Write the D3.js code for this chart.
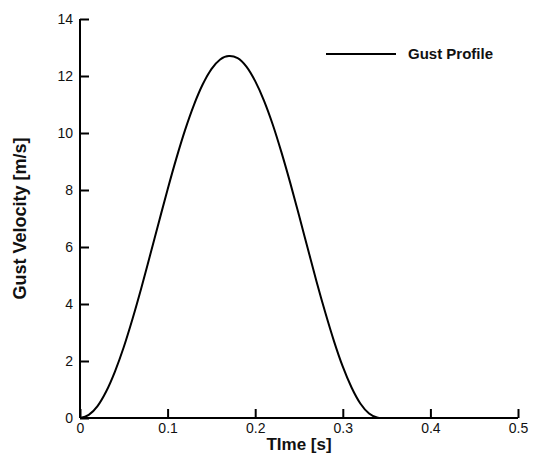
<!DOCTYPE html>
<html>
<head>
<meta charset="utf-8">
<script src="https://cdn.jsdelivr.net/npm/d3@7"></script>
<style>
  html, body { margin: 0; padding: 0; background: #fff; }
  svg { display: block; }
  text { font-family: "Liberation Sans", Arial, sans-serif; fill: #111; }
</style>
</head>
<body>
<svg id="chart" width="534" height="456"></svg>
<script>
// Data
const timeValues = [0, 0.01, 0.02, 0.03, 0.04, 0.05, 0.06, 0.07, 0.08, 0.09, 0.10, 0.11, 0.12, 0.13, 0.14, 0.15, 0.16, 0.17, 0.171, 0.18, 0.19, 0.20, 0.21, 0.22, 0.23, 0.24, 0.25, 0.26, 0.27, 0.28, 0.29, 0.30, 0.31, 0.32, 0.33, 0.34, 0.342, 0.40, 0.45, 0.50];
const gustVelocity = [0, 0.11, 0.42, 0.94, 1.64, 2.49, 3.48, 4.56, 5.71, 6.87, 8.02, 9.11, 10.11, 10.98, 11.70, 12.24, 12.58, 12.70, 12.70, 12.63, 12.33, 11.82, 11.14, 10.30, 9.32, 8.25, 7.11, 5.95, 4.79, 3.70, 2.69, 1.80, 1.07, 0.51, 0.16, 0.01, 0, 0, 0, 0];
const xTicks = [0, 0.1, 0.2, 0.3, 0.4, 0.5];
const xTickLabels = ["0", "0.1", "0.2", "0.3", "0.4", "0.5"];
const yTicks = [0, 2, 4, 6, 8, 10, 12, 14];
const yTickLabels = ["0", "2", "4", "6", "8", "10", "12", "14"];
const seriesName = "Gust Profile";
const xTitle = "TIme [s]";
const yTitle = "Gust Velocity [m/s]";

const svg = d3.select("#chart");
const x = d3.scaleLinear().domain([0, 0.5]).range([80, 518]);
const y = d3.scaleLinear().domain([0, 14]).range([418, 19]);

// Axes with inward ticks
const xAxis = d3.axisBottom(x).tickValues(xTicks).tickSize(-9).tickPadding(15)
  .tickFormat((d, i) => xTickLabels[i]);
const yAxis = d3.axisLeft(y).tickValues(yTicks).tickSize(-9).tickPadding(7)
  .tickFormat((d, i) => yTickLabels[i]);

const gx = svg.append("g").attr("transform", `translate(0,${y(0)})`).call(xAxis);
const gy = svg.append("g").attr("transform", `translate(${x(0)},0)`).call(yAxis);

[gx, gy].forEach(g => {
  g.select(".domain").attr("stroke", "#000").attr("stroke-width", 2);
  g.selectAll(".tick line").attr("stroke", "#000").attr("stroke-width", 2);
  g.selectAll(".tick text").attr("font-size", 14).attr("fill", "#111")
    .attr("font-family", "'Liberation Sans', Arial, sans-serif");
});
gx.select(".domain").attr("d", `M${x(0)},0H${x(0.5)}`);
gy.select(".domain").attr("d", `M0,${y(0)}V${y(14)}`);
gx.selectAll(".tick text").attr("dy", null).attr("y", 15).attr("dominant-baseline", "auto");
gy.selectAll(".tick text").attr("dy", "0.35em").attr("x", -7);

// Curve
const line = d3.line().x((d, i) => x(timeValues[i])).y(d => y(d)).curve(d3.curveMonotoneX);
svg.append("path").datum(gustVelocity)
  .attr("d", line).attr("fill", "none").attr("stroke", "#000").attr("stroke-width", 2);

// Axis titles
svg.append("text").attr("x", (x(0) + x(0.5)) / 2).attr("y", 450)
  .attr("text-anchor", "middle").attr("font-size", 17).attr("font-weight", "bold").text(xTitle);
svg.append("text").attr("transform", `translate(26,${(y(0) + y(14)) / 2}) rotate(-90)`)
  .attr("text-anchor", "middle").attr("font-size", 18).attr("font-weight", "bold").text(yTitle);

// Legend
svg.append("line").attr("x1", 326).attr("x2", 396).attr("y1", 54).attr("y2", 54)
  .attr("stroke", "#000").attr("stroke-width", 2);
svg.append("text").attr("x", 408).attr("y", 59).attr("font-size", 15)
  .attr("font-weight", "bold").text(seriesName);
</script>
</body>
</html>
